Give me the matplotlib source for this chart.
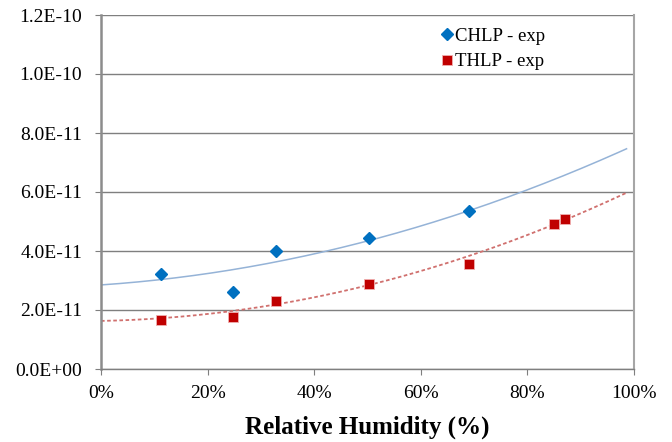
import numpy as np
import matplotlib.pyplot as plt
from matplotlib.ticker import FuncFormatter, MultipleLocator

plt.rcParams['font.family'] = ['Liberation Serif', 'DejaVu Serif']

# relative humidity (%) and measured values
rh_chlp = [11.3, 24.8, 32.8, 50.3, 69.1]
val_chlp = [3.21e-11, 2.62e-11, 4.01e-11, 4.43e-11, 5.36e-11]

rh_thlp = [11.3, 24.8, 32.8, 50.3, 69.1, 85.0, 87.1]
val_thlp = [1.66e-11, 1.75e-11, 2.32e-11, 2.89e-11, 3.56e-11, 4.92e-11, 5.08e-11]

# quadratic trendline coefficients (c2, c1, c0) with RH as a fraction
trend_chlp = [3.5e-11, 1.23e-11, 2.85e-11]
trend_thlp = [4.11e-11, 0.354e-11, 1.63e-11]
trend_end = 98.6

fig = plt.figure(figsize=(6.72, 4.42), dpi=100)
ax = fig.add_axes([101 / 672, 1 - 369 / 442, 533 / 672, 354 / 442])

xs = np.linspace(0, trend_end, 200)
ax.plot(xs, np.polyval(trend_chlp, xs / 100), color='#95b3d7', lw=1.1, zorder=2)
ax.plot(xs, np.polyval(trend_thlp, xs / 100), color='#d0706e', lw=1.3,
        linestyle=(0, (2, 1.4)), zorder=2)

ax.plot(rh_chlp, val_chlp, 'D', color='#0070c0', ms=6.5, mec='#0070c0',
        ls='none', label='CHLP - exp', zorder=3)
ax.plot(rh_thlp, val_thlp, 's', color='#c00000', ms=7.5, mec='#f0b0b0',
        mew=0.6, ls='none', label='THLP - exp', zorder=3)

ax.set_xlim(0, 100)
ax.set_ylim(0, 1.2e-10)
ax.xaxis.set_major_locator(MultipleLocator(20))
ax.yaxis.set_major_locator(MultipleLocator(2e-11))
ax.xaxis.set_major_formatter(FuncFormatter(lambda v, p: f'{v:.0f}%'))
ax.yaxis.set_major_formatter(FuncFormatter(lambda v, p: f'{v:.1E}'.replace('E-0', 'E-')))

ax.grid(axis='y', color='#7f7f7f', lw=1.0)
ax.set_axisbelow(True)
ax.spines['top'].set_visible(False)
ax.spines['left'].set_color('#8c8c8c')
ax.spines['left'].set_linewidth(1.8)
ax.spines['right'].set_color('#a6a6a6')
ax.spines['right'].set_linewidth(1.5)
ax.spines['bottom'].set_color('#7f7f7f')
ax.spines['bottom'].set_linewidth(1.0)
ax.tick_params(axis='both', direction='out', colors='#7f7f7f', labelcolor='black',
               labelsize=14, length=4.5)
ax.tick_params(axis='y', pad=9)
ax.tick_params(axis='x', pad=7)

ax.set_xlabel('Relative Humidity (%)', fontsize=18, fontweight='bold', labelpad=10)

ax.legend(loc='upper left', bbox_to_anchor=(0.625, 0.985), frameon=False,
          fontsize=13.5, handlelength=0.6, handletextpad=0.1, labelspacing=0.45,
          borderaxespad=0)

fig.savefig('out.png', dpi=100)
